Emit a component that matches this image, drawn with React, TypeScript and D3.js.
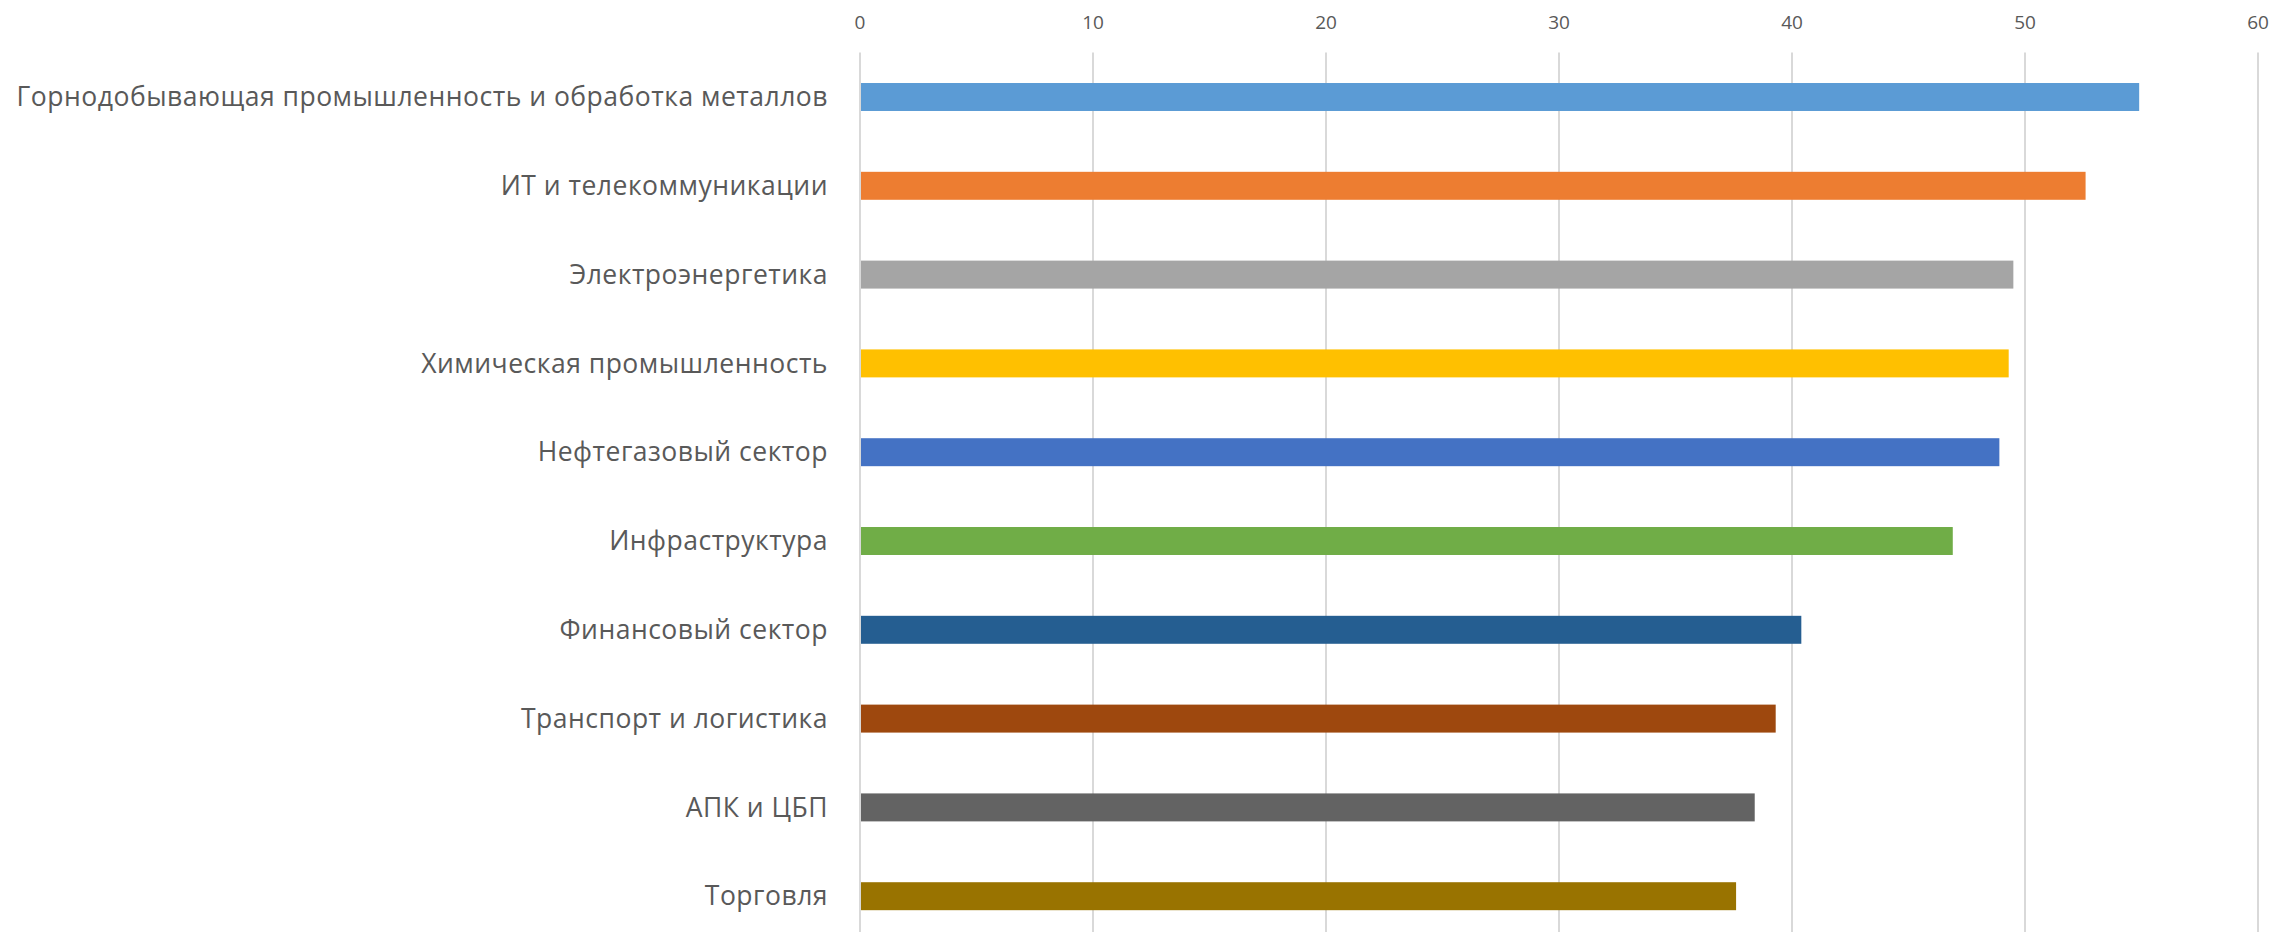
import { useEffect, useRef } from "react";
import * as d3 from "d3";

// Отрасли (сверху вниз) и значения
const categories = [
  "Горнодобывающая промышленность и обработка металлов",
  "ИТ и телекоммуникации",
  "Электроэнергетика",
  "Химическая промышленность",
  "Нефтегазовый сектор",
  "Инфраструктура",
  "Финансовый сектор",
  "Транспорт и логистика",
  "АПК и ЦБП",
  "Торговля",
];
const values = [54.9, 52.6, 49.5, 49.3, 48.9, 46.9, 40.4, 39.3, 38.4, 37.6];
const barColors = [
  "#5B9BD5",
  "#ED7D31",
  "#A5A5A5",
  "#FFC000",
  "#4472C4",
  "#70AD47",
  "#255E91",
  "#9E480E",
  "#636363",
  "#997300",
];
const xTicks = [0, 10, 20, 30, 40, 50, 60];

export default function App() {
  const svgRef = useRef<SVGSVGElement | null>(null);

  useEffect(() => {
    document.body.style.margin = "0";
    if (!svgRef.current) return;
    const svg = d3.select(svgRef.current);
    svg.selectAll("*").remove();

    const height = 932;
    const left = 860;
    const right = 2258;
    const top = 52.6;
    const bottom = 940.6;
    const font = "'Open Sans', 'Segoe UI', sans-serif";

    const x = d3.scaleLinear().domain([0, 60]).range([left, right]);
    const y = d3
      .scaleBand()
      .domain(categories)
      .range([top, bottom])
      .paddingInner(0.685)
      .paddingOuter(0.3425);

    // vertical gridlines
    svg
      .append("g")
      .selectAll("line")
      .data(xTicks)
      .enter()
      .append("line")
      .attr("x1", (d) => x(d))
      .attr("x2", (d) => x(d))
      .attr("y1", top)
      .attr("y2", height)
      .attr("stroke", "#d9d9d9")
      .attr("stroke-width", 2);

    // top tick labels
    svg
      .append("g")
      .selectAll("text")
      .data(xTicks)
      .enter()
      .append("text")
      .attr("x", (d) => x(d))
      .attr("y", 22)
      .attr("dy", "0.35em")
      .attr("text-anchor", "middle")
      .attr("font-family", font)
      .attr("font-size", 19)
      .attr("fill", "#595959")
      .text((d) => d);

    // bars
    svg
      .append("g")
      .selectAll("rect")
      .data(values)
      .enter()
      .append("rect")
      .attr("x", x(0) + 1)
      .attr("y", (_, i) => y(categories[i])!)
      .attr("width", (d) => x(d) - x(0) - 1)
      .attr("height", y.bandwidth())
      .attr("fill", (_, i) => barColors[i]);

    // category labels
    svg
      .append("g")
      .selectAll("text")
      .data(categories)
      .enter()
      .append("text")
      .attr("x", 828)
      .attr("y", (d) => y(d)! + y.bandwidth() / 2)
      .attr("dy", "0.35em")
      .attr("text-anchor", "end")
      .attr("font-family", font)
      .attr("font-size", 26.5)
      .attr("letter-spacing", 0.5)
      .attr("fill", "#595959")
      .text((d) => d);
  }, []);

  return <svg ref={svgRef} width={2275} height={932} style={{ display: "block" }} />;
}
